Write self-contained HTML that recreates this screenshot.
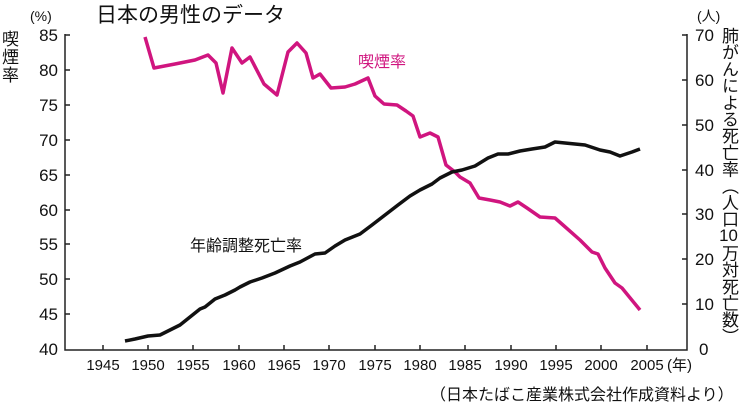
<!DOCTYPE html>
<html><head><meta charset="utf-8"><style>
body{margin:0;background:#fff;width:748px;height:413px;overflow:hidden;position:relative}
svg{font-family:"Liberation Sans","Noto Sans CJK JP",sans-serif}
.v{position:absolute;left:718px;top:27px;writing-mode:vertical-rl;font-family:"Liberation Sans","Noto Sans CJK JP",sans-serif;font-size:17px;line-height:20px;color:#111;letter-spacing:-0.3px}
.tcu{text-combine-upright:all}
</style></head><body>
<svg width="748" height="413" viewBox="0 0 748 413">
<g font-size="17" fill="#111">
<text x="96" y="22" font-size="21">日本の男性のデータ</text>
<text x="30" y="21" font-size="14">(%)</text>
<text x="697" y="21" font-size="14">(人)</text>
<text x="2" y="45" font-size="17">喫</text>
<text x="2" y="63" font-size="17">煙</text>
<text x="2" y="81" font-size="17">率</text>
<g text-anchor="end" font-size="17">
<text x="58" y="41">85</text><text x="58" y="76">80</text><text x="58" y="111">75</text><text x="58" y="146">70</text><text x="58" y="181">65</text><text x="58" y="216">60</text><text x="58" y="250">55</text><text x="58" y="285">50</text><text x="58" y="320">45</text><text x="58" y="355">40</text>
</g>
<g font-size="17">
<text x="695" y="41">70</text><text x="695" y="86">60</text><text x="695" y="131">50</text><text x="695" y="176">40</text><text x="695" y="220">30</text><text x="695" y="265">20</text><text x="695" y="310">10</text><text x="699" y="355">0</text>
</g>
<g text-anchor="middle" font-size="15">
<text x="103" y="370">1945</text><text x="148" y="370">1950</text><text x="193" y="370">1955</text><text x="239" y="370">1960</text><text x="284" y="370">1965</text><text x="329" y="370">1970</text><text x="375" y="370">1975</text><text x="420" y="370">1980</text><text x="465" y="370">1985</text><text x="511" y="370">1990</text><text x="556" y="370">1995</text><text x="601" y="370">2000</text><text x="647" y="370">2005</text>
</g>
<text x="667" y="370" font-size="15">(年)</text>
<text x="430" y="400" font-size="16">（日本たばこ産業株式会社作成資料より）</text>
<text x="190" y="251" font-size="16">年齢調整死亡率</text>
<text x="358" y="67" font-size="16" fill="#d0157f">喫煙率</text>
</g>
<g stroke="#222" stroke-width="1.5" fill="none">
<path d="M65 34V350H687V34"/>
<path d="M65 35h5M65 70h5M65 105h5M65 140h5M65 175h5M65 210h5M65 244h5M65 279h5M65 314h5"/>
<path d="M687 35h-5M687 80h-5M687 125h-5M687 170h-5M687 214h-5M687 259h-5M687 304h-5"/>
<path d="M103 350v-5M148 350v-5M193 350v-5M239 350v-5M284 350v-5M329 350v-5M375 350v-5M420 350v-5M465 350v-5M511 350v-5M556 350v-5M601 350v-5M647 350v-5"/>
</g>
<polyline fill="none" stroke="#d0157f" stroke-width="3.5" stroke-linejoin="round" points="145,37 154,68 175,64 195,60 208,55 216,63 223,93 232,48 242,63 250,57 264,84 277,95 288,52 297,43 306,53 313,78 320,74 331,88 345,87 355,84 368,78 375,96 384,104 397,105 406,111 413,116 420,137 430,133 438,137 446,165 455,172 460,177 470,183 479,198 490,200 500,202 510,206 518,202 527,208 540,217 555,218 563,225 580,240 592,252 598,254 605,268 615,283 622,288 640,310"/>
<polyline fill="none" stroke="#111" stroke-width="3.5" stroke-linejoin="round" points="125,341 135,339 148,336 160,335 170,330 180,325 190,317 200,309 205,307 215,299 225,295 235,290 240,287 250,282 262,278 275,273 290,266 300,262 315,254 325,253 335,246 345,240 360,234 372,225 385,215 398,205 410,196 420,190 432,184 440,178 452,172 462,170 475,166 488,158 498,154 508,154 520,151 532,149 545,147 555,142 565,143 575,144 585,145 600,150 610,152 620,156 632,152 640,149"/>
</svg>
<div class="v">肺がんによる死亡率（人口<span class="tcu">10</span>万対死亡数）</div>
</body></html>
